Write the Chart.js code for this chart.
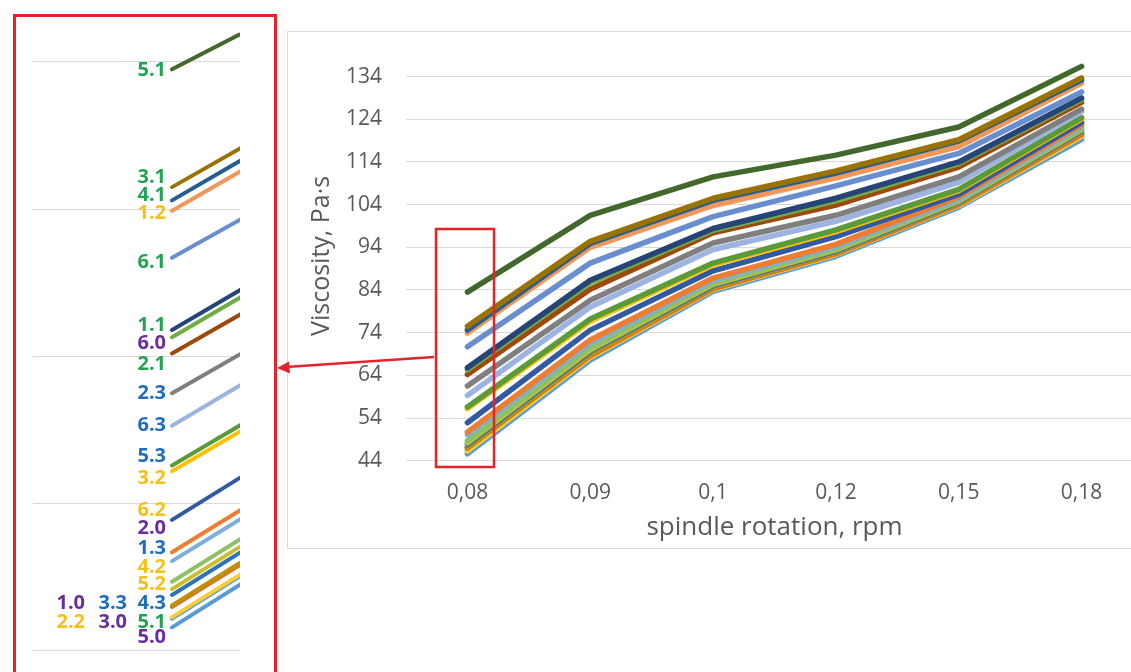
<!DOCTYPE html>
<html>
<head>
<meta charset="utf-8">
<script src="https://cdn.jsdelivr.net/npm/chart.js@4.4.1/dist/chart.umd.min.js"></script>
<style>
  html, body { margin: 0; padding: 0; background: #fff; width: 1131px; height: 672px; overflow: hidden; position: relative; }
  #zoomBox { position: absolute; left: 13px; top: 14px; width: 258px; height: 700px; border: 3px solid #e3242b; }
  #zoomWrap { position: absolute; left: 16px; top: 17px; width: 258px; height: 655px; }
  #mainBox { position: absolute; left: 287px; top: 31px; width: 900px; height: 516px; border: 1px solid #d9d9d9; }
  #mainWrap { position: absolute; left: 288px; top: 32px; width: 872px; height: 516px; }
  #overlay { position: absolute; left: 0; top: 0; pointer-events: none; }
</style>
</head>
<body>
<div id="zoomBox"></div>
<div id="zoomWrap"><canvas id="zoomChart" width="258" height="655"></canvas></div>
<div id="mainBox"></div>
<div id="mainWrap"><canvas id="mainChart" width="872" height="516"></canvas></div>
<svg id="overlay" width="1131" height="672">
  <rect x="436" y="229" width="58" height="238" fill="none" stroke="#e3242b" stroke-width="2.5"/>
  <line x1="434" y1="357" x2="286" y2="367" stroke="#e3242b" stroke-width="2.5"/>
  <polygon points="277,368 289,361.5 290,373.5" fill="#e3242b"/>
</svg>

<script>
// --- categories / ticks ---
const rpmLabels = ['0,08', '0,09', '0,1', '0,12', '0,15', '0,18'];
const yTicks = [44, 54, 64, 74, 84, 94, 104, 114, 124, 134];
const zoomGrid = [44, 54, 64, 74, 84];

// --- viscosity per sample (Pa·s), one value per spindle rotation ---
const v1_0 = [47.1, 69.0, 84.6, 92.8, 104.3, 120.8];
const v1_1 = [65.8, 86.3, 98.4, 105.5, 114.0, 129.0];
const v1_2 = [73.9, 94.0, 103.8, 110.3, 117.6, 132.5];
const v1_3 = [50.1, 71.6, 86.3, 94.2, 105.4, 122.3];
const v2_0 = [50.7, 72.3, 86.8, 94.7, 105.8, 122.7];
const v2_1 = [64.2, 84.2, 97.4, 103.9, 112.8, 128.0];
const v2_2 = [46.3, 68.2, 84.1, 92.3, 103.8, 120.0];
const v2_3 = [61.5, 81.6, 95.0, 101.5, 110.5, 126.4];
const v3_0 = [46.2, 68.0, 83.9, 92.1, 103.6, 119.8];
const v3_1 = [75.5, 95.4, 105.5, 111.9, 119.2, 133.7];
const v3_2 = [56.2, 76.7, 89.9, 97.7, 107.3, 124.1];
const v3_3 = [47.0, 68.8, 84.4, 92.6, 104.1, 120.6];
const v4_0 = [47.0, 68.6, 84.3, 92.5, 104.0, 120.4];
const v4_1 = [74.6, 94.9, 105.0, 111.4, 118.9, 133.2];
const v4_2 = [48.7, 70.5, 85.7, 93.7, 105.0, 121.8];
const v4_3 = [47.8, 69.6, 85.0, 93.1, 104.6, 121.2];
const v5_0 = [45.6, 67.6, 83.7, 91.9, 103.4, 119.3];
const v5_1 = [83.5, 101.5, 110.5, 115.6, 122.2, 136.4];
const v5_2 = [48.2, 70.0, 85.3, 93.4, 104.8, 121.5];
const v5_3 = [56.6, 77.2, 90.3, 98.1, 107.6, 124.4];
const v6_0 = [65.3, 85.7, 98.0, 104.9, 113.6, 128.6];
const v6_1 = [70.7, 90.3, 101.2, 108.4, 116.0, 130.4];
const v6_2 = [52.9, 74.6, 88.5, 96.5, 106.4, 123.3];
const v6_3 = [59.3, 80.0, 93.5, 100.1, 109.2, 125.8];

const seriesNames = ['1.0','1.1','1.2','1.3','2.0','2.1','2.2','2.3','3.0','3.1','3.2','3.3',
                     '4.0','4.1','4.2','4.3','5.0','5.1','5.2','5.3','6.0','6.1','6.2','6.3'];
const seriesValues = [v1_0, v1_1, v1_2, v1_3, v2_0, v2_1, v2_2, v2_3, v3_0, v3_1, v3_2, v3_3,
                      v4_0, v4_1, v4_2, v4_3, v5_0, v5_1, v5_2, v5_3, v6_0, v6_1, v6_2, v6_3];

// --- labels in the zoomed panel (text, anchor value, column, colour group) ---
const zoomLabelText  = ['5.1','3.1','4.1','1.2','6.1','1.1','6.0','2.1','2.3','6.3','5.3','3.2',
                        '6.2','2.0','1.3','4.2','5.2','4.3','5.1','5.0','1.0','3.3','2.2','3.0'];
const zoomLabelValue = [83.46, 76.19, 74.97, 73.75, 70.42, 66.14, 64.92, 63.49, 61.52, 59.35, 57.25, 55.75,
                        53.58, 52.35, 51.0, 49.7, 48.55, 47.26, 45.97, 44.95, 47.26, 47.26, 45.97, 45.97];
const zoomLabelCol   = [0,0,0,0,0,0,0,0,0,0,0,0, 0,0,0,0,0,0,0,0, 2,1,2,1];
const zoomLabelGroup = ['g','g','g','y','g','g','p','g','b','b','b','y',
                        'y','p','b','y','y','b','g','p','p','b','y','p'];

// --- styles ---
const lineColors = ['#BF9000','#264478','#F1975A','#7CAFDD','#ED7D31','#9E480E','#FFCD33','#7F7F7F',
                    '#4BA3D9','#997300','#FFC000','#4472C4','#E0712C','#255E91','#8CC168','#2E75B6',
                    '#5B9BD5','#43682B','#C9BE2E','#5A9A38','#70AD47','#698ED0','#335AA1','#9DB4E2'];
const groupColors = { g: '#22a352', y: '#f6c01a', b: '#1f6dc0', p: '#6b2d9c' };
const labelColOffset = [-6, -45, -87];
const FONT = "'Open Sans', sans-serif";
const TEXT_GREY = '#595959';

// draw the highest line last so it sits on top
const drawOrder = seriesNames.map((n, i) => i).sort((a, b) => seriesValues[a][0] - seriesValues[b][0]);

const noEdgePadding = s => { s.paddingTop = 0; s.paddingBottom = 0; s.paddingLeft = 0; s.paddingRight = 0; };

// === MAIN CHART ===
const mainDatasets = drawOrder.map((i, k) => ({
    label: seriesNames[i],
    data: seriesValues[i],
    borderColor: lineColors[i],
    backgroundColor: lineColors[i],
    order: drawOrder.length - k
}));

new Chart(document.getElementById('mainChart'), {
    type: 'line',
    data: { labels: rpmLabels, datasets: mainDatasets },
    options: {
        responsive: false,
        animation: false,
        devicePixelRatio: 1,
        layout: { padding: { left: 0, right: 17, top: 19, bottom: 0 } },
        plugins: { legend: { display: false }, tooltip: { enabled: false } },
        elements: {
            point: { radius: 0 },
            line: { borderWidth: 5.5, tension: 0, borderCapStyle: 'round', borderJoinStyle: 'round' }
        },
        scales: {
            x: {
                offset: true,
                grid: { display: false, drawTicks: false },
                border: { display: false },
                ticks: { color: TEXT_GREY, font: { family: FONT, size: 21 }, padding: 20, maxRotation: 0, autoSkip: false },
                title: { display: true, text: 'spindle rotation, rpm', color: TEXT_GREY,
                         font: { family: FONT, size: 26 }, padding: { top: 0, bottom: 5 } },
                afterFit: s => { s.height = 87.3; noEdgePadding(s); }
            },
            y: {
                min: 44, max: 140,
                afterBuildTicks: s => { s.ticks = yTicks.map(v => ({ value: v })); },
                grid: { color: '#d9d9d9', drawTicks: false },
                border: { display: false },
                ticks: { color: TEXT_GREY, font: { family: FONT, size: 21 }, padding: 24 },
                title: { display: true, text: 'Viscosity, Pa·s', color: TEXT_GREY,
                         font: { family: FONT, size: 25 }, padding: { top: 19, bottom: 0 } },
                afterFit: s => { s.width = 118; noEdgePadding(s); }
            }
        }
    }
});

// === ZOOMED PANEL (left) ===
const zoomLabels = {
    id: 'zoomLabels',
    afterDatasetsDraw(chart) {
        const { ctx, scales } = chart;
        const x0 = scales.x.getPixelForValue(0);
        ctx.save();
        ctx.font = "bold 20px " + FONT;
        ctx.textAlign = 'right';
        ctx.textBaseline = 'middle';
        zoomLabelText.forEach((t, i) => {
            ctx.fillStyle = groupColors[zoomLabelGroup[i]];
            ctx.fillText(t, x0 + labelColOffset[zoomLabelCol[i]], scales.y.getPixelForValue(zoomLabelValue[i]));
        });
        ctx.restore();
    }
};

const zoomDatasets = drawOrder.map((i, k) => ({
    label: seriesNames[i],
    data: seriesValues[i].map((v, j) => ({ x: j, y: v })),
    borderColor: lineColors[i],
    order: drawOrder.length - k
}));

new Chart(document.getElementById('zoomChart'), {
    type: 'line',
    data: { datasets: zoomDatasets },
    options: {
        responsive: false,
        animation: false,
        devicePixelRatio: 1,
        layout: { padding: { left: 17, right: 34, top: 15.5, bottom: 6.3 } },
        plugins: { legend: { display: false }, tooltip: { enabled: false } },
        elements: {
            point: { radius: 0 },
            line: { borderWidth: 4, tension: 0, borderCapStyle: 'round' }
        },
        scales: {
            x: { type: 'linear', min: -0.27, max: 0.132, display: false },
            y: {
                min: 43, max: 86,
                afterBuildTicks: s => { s.ticks = zoomGrid.map(v => ({ value: v })); },
                ticks: { display: false },
                grid: { color: '#d9d9d9', drawTicks: false },
                border: { display: false },
                afterFit: s => { s.width = 0; }
            }
        }
    },
    plugins: [zoomLabels]
});
</script>
</body>
</html>
